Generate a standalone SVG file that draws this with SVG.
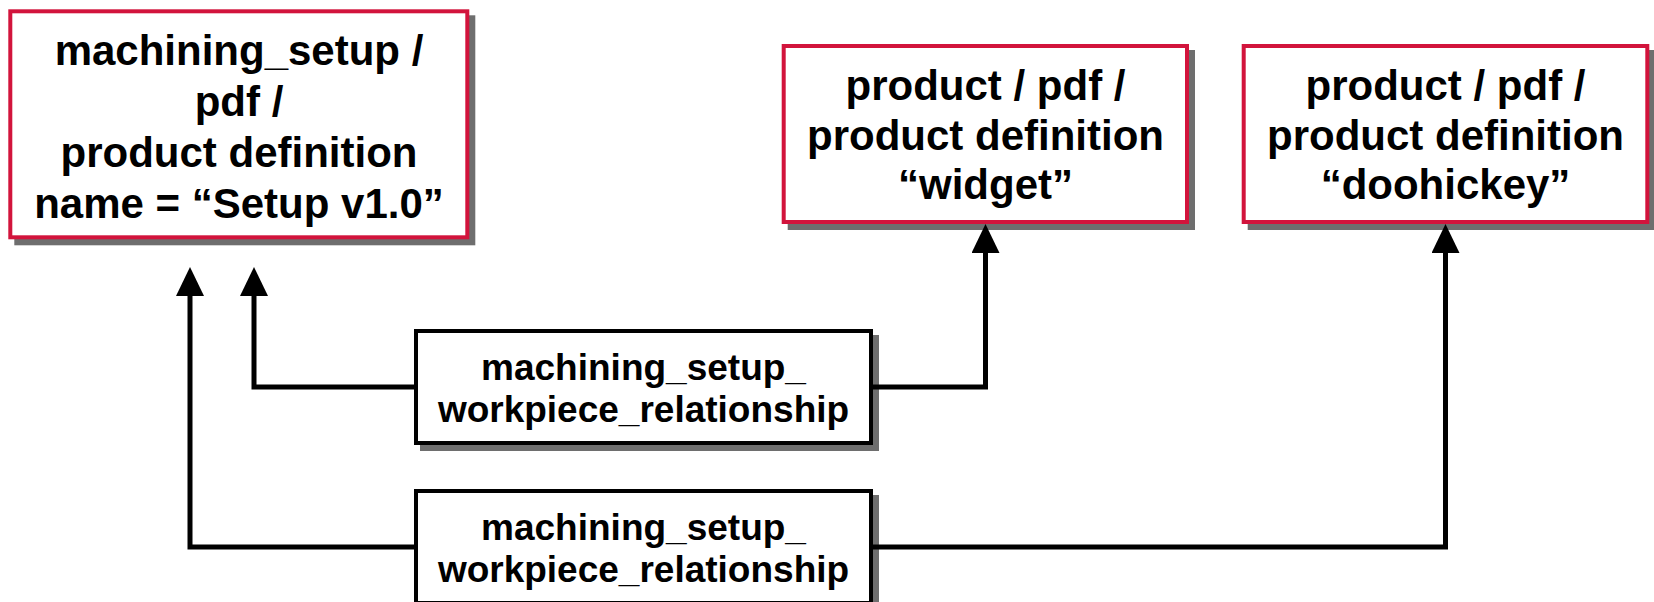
<svg xmlns="http://www.w3.org/2000/svg" width="1654" height="602" viewBox="0 0 1654 602">
  <style>
    .shadow { fill: #6e6e6e; }
    .entity { fill: #ffffff; stroke: #d2143c; stroke-width: 4; }
    .rel { fill: #ffffff; stroke: #000000; stroke-width: 4; }
    .label { font-family: "Liberation Sans", Arial, sans-serif; font-weight: bold; fill: #000000; text-anchor: middle; }
    .big { font-size: 42px; }
    .small { font-size: 37px; }
    .link { fill: none; stroke: #000000; stroke-width: 5; stroke-linejoin: miter; }
  </style>
  <defs>
    <marker id="arrow" viewBox="0 0 29 28" refX="0" refY="14" markerWidth="29" markerHeight="28" markerUnits="userSpaceOnUse" orient="auto">
      <path d="M0,0 L29,14 L0,28 Z" fill="#000000"/>
    </marker>
  </defs>
  <rect width="1654" height="602" fill="#ffffff"/>

  <!-- setup product definition -->
  <g id="setup-pd">
    <rect class="shadow" x="14.3" y="15.3" width="461" height="230"/>
    <rect class="entity" x="10.3" y="11.3" width="457" height="226"/>
    <text class="label big" x="239" y="65">machining_setup /</text>
    <text class="label big" x="239" y="116">pdf /</text>
    <text class="label big" x="239" y="167">product definition</text>
    <text class="label big" x="239" y="218">name = “Setup v1.0”</text>
  </g>

  <!-- widget product definition -->
  <g id="widget-pd">
    <rect class="shadow" x="787.7" y="50" width="407.3" height="180"/>
    <rect class="entity" x="783.7" y="46" width="403.3" height="176"/>
    <text class="label big" x="985.5" y="100">product / pdf /</text>
    <text class="label big" x="985.5" y="150">product definition</text>
    <text class="label big" x="985.5" y="199">“widget”</text>
  </g>

  <!-- doohickey product definition -->
  <g id="doohickey-pd">
    <rect class="shadow" x="1247.7" y="50" width="407.3" height="180"/>
    <rect class="entity" x="1243.7" y="46" width="403.6" height="176"/>
    <text class="label big" x="1445.5" y="100">product / pdf /</text>
    <text class="label big" x="1445.5" y="150">product definition</text>
    <text class="label big" x="1445.5" y="199">“doohickey”</text>
  </g>

  <!-- relationship to widget -->
  <g id="rel-widget">
    <rect class="shadow" x="420" y="335" width="459" height="116"/>
    <rect class="rel" x="416" y="331" width="455" height="112"/>
    <text class="label small" x="643.5" y="380">machining_setup_</text>
    <text class="label small" x="643.5" y="422">workpiece_relationship</text>
  </g>

  <!-- relationship to doohickey -->
  <g id="rel-doohickey">
    <rect class="shadow" x="420" y="495" width="459" height="116"/>
    <rect class="rel" x="416" y="491" width="455" height="112"/>
    <text class="label small" x="643.5" y="540">machining_setup_</text>
    <text class="label small" x="643.5" y="582">workpiece_relationship</text>
  </g>

  <!-- connectors -->
  <g id="connectors">
    <path class="link" d="M414,387 H254 V296" marker-end="url(#arrow)"/>
    <path class="link" d="M873,387 H985.5 V253" marker-end="url(#arrow)"/>
    <path class="link" d="M414,547 H190 V296" marker-end="url(#arrow)"/>
    <path class="link" d="M873,547 H1445.5 V253" marker-end="url(#arrow)"/>
  </g>
</svg>
